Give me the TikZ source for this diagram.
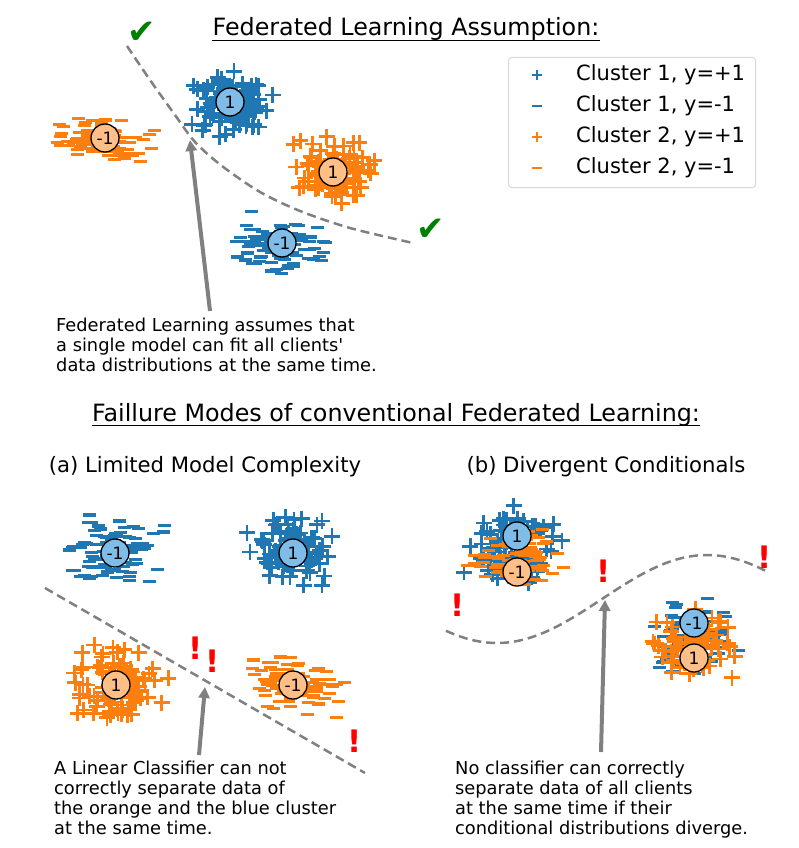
\documentclass[tikz,border=0pt]{standalone}
\usepackage{fontspec}
\setmainfont{DejaVu Sans}[Ligatures=TeXOff]
\usetikzlibrary{arrows.meta}
\definecolor{tblue}{HTML}{1F77B4}
\definecolor{torange}{HTML}{FF7F0E}
\definecolor{lblue}{HTML}{80BCE8}
\definecolor{lorange}{HTML}{FFBF87}
\definecolor{chk}{HTML}{008000}
\newcommand\pclust[6]{%
  \foreach \k in {1,...,#6}{%
    \pgfmathsetmacro\qx{#1+#3*(rand+rand+rand)}%
    \pgfmathsetmacro\qy{#2+#4*(rand+rand+rand)}%
    \draw[#5,pmk] (\qx,\qy) +(-8,0) -- +(8,0) +(0,-8) -- +(0,8);
  }}
\newcommand\mclust[6]{%
  \foreach \k in {1,...,#6}{%
    \pgfmathsetmacro\qx{#1+#3*(rand+rand+rand)}%
    \pgfmathsetmacro\qy{#2+#4*(rand+rand+rand)}%
    \draw[#5,mmk] (\qx,\qy) +(-6.5,0) -- +(6.5,0);
  }}
\tikzset{
  pmk/.style={line width=2.8pt},
  mmk/.style={line width=3.1pt},
  cnode/.style={circle, draw=black, line width=1.3pt, minimum size=28pt, inner sep=0pt, font=\fontsize{17}{17}\selectfont},
  bc/.style={cnode, fill=lblue},
  oc/.style={cnode, fill=lorange},
  ttl/.style={inner sep=0pt, anchor=base, font=\fontsize{23.8}{28}\selectfont},
  sub/.style={inner sep=0pt, anchor=base, font=\fontsize{21.2}{25}\selectfont},
  anno/.style={inner sep=0pt, anchor=north west, align=left, font=\fontsize{17.8}{20}\selectfont},
  sep/.style={gray, dash pattern=on 9pt off 5pt, line width=2.5pt},
  pointer/.style={gray, line width=4pt, -{Triangle[length=11pt,width=11pt]}},
  bang/.style={red, inner sep=0pt, font=\fontsize{31}{33}\bfseries\selectfont},
  tick/.style={chk, inner sep=0pt, font=\fontsize{34}{36}\selectfont},
  legtxt/.style={inner sep=0pt, anchor=west, font=\fontsize{21}{25}\selectfont},
}
\begin{document}
\begin{tikzpicture}[x=1pt,y=-1pt]
\useasboundingbox[fill=white] (0,0) rectangle (799,848);
\pgfmathsetseed{7}
% ---------- Title 1
\node[ttl] (t1) at (406,36) {Federated Learning Assumption:};
\draw[line width=1.2pt] ([yshift=-4.5pt]t1.base west) -- ([yshift=-4.5pt]t1.base east);
% ---------- top panel clusters
\pclust{230}{102}{18}{14}{tblue}{100}
\mclust{105}{138}{22}{10}{torange}{100}
\pclust{333}{172}{20}{15}{torange}{100}
\mclust{282}{243}{22}{12}{tblue}{100}
\node[bc] (c1) at (230,102) {1};
\node[oc] (c2) at (105,138) {-1};
\node[oc] (c3) at (333,172) {1};
\node[bc] (c4) at (282,243) {-1};
\draw[sep] plot[smooth] coordinates {(127,46) (150,80) (175,115) (195,142) (222,166) (260,192) (300,211) (350,228) (413,243)};
\node[tick] (ck1) at (142,33) {✔};
\node[tick] (ck2) at (431,230) {✔};
\coordinate (a0s) at (210,311);
\coordinate (a0e) at (190,140);
\draw[pointer] (a0s) -- (a0e);
\node[anno] (n0) at (56,318) {Federated Learning assumes that\\a single model can fit all clients'\\data distributions at the same time.};
% ---------- legend
\node[draw=black!15, line width=1pt, rounded corners=3pt, minimum width=247pt, minimum height=130pt, anchor=north west, inner sep=0pt] (leg) at (508,57) {};
\draw[tblue, line width=2.6pt] (532,75) -- (542,75) (537,70) -- (537,80);
\draw[tblue, line width=2.6pt] (532,106) -- (542,106);
\draw[torange, line width=2.6pt] (532,137) -- (542,137) (537,132) -- (537,142);
\draw[torange, line width=2.6pt] (532,168) -- (542,168);
\node[legtxt] (l1) at (576,75) {Cluster 1, y=+1};
\node[legtxt] (l2) at (576,106) {Cluster 1, y=-1};
\node[legtxt] (l3) at (576,137) {Cluster 2, y=+1};
\node[legtxt] (l4) at (576,168) {Cluster 2, y=-1};
% ---------- Title 2
\node[ttl] (t2) at (396,421) {Faillure Modes of conventional Federated Learning:};
\draw[line width=1.2pt] ([yshift=-4.5pt]t2.base west) -- ([yshift=-4.5pt]t2.base east);
\node[sub] (s1) at (205,472) {(a) Limited Model Complexity};
\node[sub] (s2) at (606,472) {(b) Divergent Conditionals};
% ---------- panel (a)
\mclust{115}{553}{22}{15}{tblue}{100}
\pclust{293}{553}{17}{16}{tblue}{100}
\pclust{116}{685}{20}{18}{torange}{100}
\mclust{293}{685}{20}{12}{torange}{100}
\node[bc] (d1) at (115,553) {-1};
\node[bc] (d2) at (293,553) {1};
\node[oc] (d3) at (116,685) {1};
\node[oc] (d4) at (293,685) {-1};
\coordinate (la) at (45,588);
\coordinate (lb) at (365,773);
\draw[sep] (la) -- (lb);
\node[bang] (e1) at (196,648) {!};
\node[bang] (e2) at (213,661) {!};
\node[bang] (e3) at (355,741) {!};
\coordinate (a1s) at (199,755);
\coordinate (a1e) at (205,687);
\draw[pointer] (a1s) -- (a1e);
\node[anno] (n1) at (54,761) {A Linear Classifier can not\\correctly separate data of\\the orange and the blue cluster\\at the same time.};
% ---------- panel (b)
\pclust{513}{548}{20}{17}{tblue}{90}
\mclust{516}{556}{20}{13}{torange}{90}
\mclust{695}{638}{20}{17}{tblue}{90}
\pclust{693}{645}{19}{16}{torange}{90}
\node[bc] (f1) at (517,536) {1};
\node[oc] (f2) at (517,572) {-1};
\node[bc] (f3) at (694,623) {-1};
\node[oc] (f4) at (694,658) {1};
\draw[sep] plot[domain=446:765, samples=80, smooth] (\x, {599+44*cos(0.857143*(\x-497))});
\node[bang] (g1) at (458,605) {!};
\node[bang] (g2) at (604,571) {!};
\node[bang] (g3) at (765,557) {!};
\coordinate (a2s) at (601,752);
\coordinate (a2e) at (605,600);
\draw[pointer] (a2s) -- (a2e);
\node[anno] (n2) at (455,761) {No classifier can correctly\\separate data of all clients\\at the same time if their\\conditional distributions diverge.};
\end{tikzpicture}
\end{document}
